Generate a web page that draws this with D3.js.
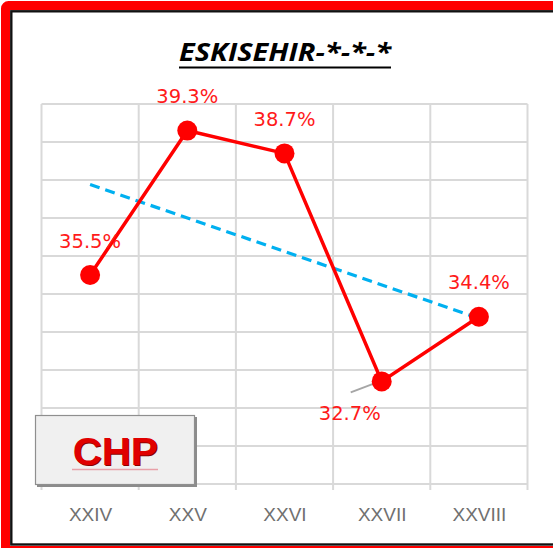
<!DOCTYPE html>
<html>
<head>
<meta charset="utf-8">
<script src="https://cdn.jsdelivr.net/npm/d3@7"></script>
<style>
  html, body { margin: 0; padding: 0; background: #fff; }
  svg { display: block; }
</style>
</head>
<body>
<svg></svg>
<script>
// chart data
const categories = ["XXIV", "XXV", "XXVI", "XXVII", "XXVIII"];
const values = [35.5, 39.3, 38.7, 32.7, 34.4];
const yDomain = [30, 40];
const title = "ESKISEHIR-*-*-*";
const partyName = "CHP";

// canvas
const w = 553;
const h = 548;

const svg = d3.select("svg")
              .attr("width", w)
              .attr("height", h);

// frame: red outer band, thin black inner line
svg.append("rect")
   .attr("x", 5.5).attr("y", 5.5)
   .attr("width", 560).attr("height", 545)
   .attr("rx", 3)
   .attr("fill", "none")
   .attr("stroke", "#ff0000")
   .attr("stroke-width", 9);
svg.append("rect")
   .attr("x", 11.3).attr("y", 11.3)
   .attr("width", 560).attr("height", 533.2)
   .attr("fill", "none")
   .attr("stroke", "#111")
   .attr("stroke-width", 2.4);

// scales
const xBand = d3.scaleBand()
                .domain(categories)
                .range([41.5, 527.5])
                .paddingInner(0)
                .paddingOuter(0);
const xPos = d => xBand(d) + xBand.bandwidth() / 2;

const yScale = d3.scaleLinear()
                 .domain(yDomain)
                 .range([484, 104]);

// gridlines
const grid = svg.append("g").attr("stroke", "#d9d9d9").attr("stroke-width", 2);
grid.selectAll("line.h")
    .data(yScale.ticks(10))
    .enter()
    .append("line")
    .attr("class", "h")
    .attr("x1", 41.5).attr("x2", 527.5)
    .attr("y1", d => yScale(d)).attr("y2", d => yScale(d));
const edges = categories.map(c => xBand(c)).concat([xBand.range()[1]]);
grid.selectAll("line.v")
    .data(edges)
    .enter()
    .append("line")
    .attr("class", "v")
    .attr("x1", d => d).attr("x2", d => d)
    .attr("y1", yScale(yDomain[1])).attr("y2", yScale(yDomain[0]) + 6);

// x axis labels
const xAxis = d3.axisBottom(d3.scalePoint().domain(categories).range([xPos(categories[0]), xPos(categories[4])]))
                .tickSize(0)
                .tickPadding(0);
const xg = svg.append("g")
              .attr("transform", "translate(0, 507.5)")
              .call(xAxis);
xg.select(".domain").remove();
xg.selectAll("text")
  .attr("dy", "0.71em")
  .attr("font-family", "'Liberation Sans', Arial, sans-serif")
  .attr("font-size", 19)
  .attr("fill", "#707070");

// linear trendline (least squares over category index)
const n = values.length;
const xs = values.map((v, i) => i + 1);
const mx = d3.mean(xs);
const my = d3.mean(values);
const slope = d3.sum(xs, (x, i) => (x - mx) * (values[i] - my)) / d3.sum(xs, x => (x - mx) * (x - mx));
const trendAt = x => my + slope * (x - mx);

svg.append("line")
   .attr("x1", xPos(categories[0]))
   .attr("y1", yScale(trendAt(1)))
   .attr("x2", xPos(categories[n - 1]))
   .attr("y2", yScale(trendAt(n)))
   .attr("stroke", "#00b0f0")
   .attr("stroke-width", 3.2)
   .attr("stroke-dasharray", "10,6");

// series line
const line = d3.line()
               .x((d, i) => xPos(categories[i]))
               .y(d => yScale(d));
svg.append("path")
   .datum(values)
   .attr("d", line)
   .attr("fill", "none")
   .attr("stroke", "#ff0000")
   .attr("stroke-width", 3.5);

// leader line for the moved label
svg.append("line")
   .attr("x1", xPos(categories[3]) - 2)
   .attr("y1", yScale(values[3]))
   .attr("x2", xPos(categories[3]) - 31)
   .attr("y2", yScale(values[3]) + 11)
   .attr("stroke", "#a6a6a6")
   .attr("stroke-width", 2);

// markers
svg.selectAll("circle.pt")
   .data(values)
   .enter()
   .append("circle")
   .attr("class", "pt")
   .attr("cx", (d, i) => xPos(categories[i]))
   .attr("cy", d => yScale(d))
   .attr("r", 10)
   .attr("fill", "#ff0000");

// data labels
svg.selectAll("text.lbl")
   .data(values)
   .enter()
   .append("text")
   .attr("class", "lbl")
   .attr("x", (d, i) => xPos(categories[i]) + (i === 3 ? -32 : 0))
   .attr("y", (d, i) => yScale(d) + (i === 3 ? 39 : -27.5))
   .attr("text-anchor", "middle")
   .attr("font-family", "'DejaVu Sans', sans-serif")
   .attr("font-size", 19.5)
   .attr("fill", "#ff1a1a")
   .text(d => d.toFixed(1) + "%");

// title
svg.append("text")
   .attr("x", 285)
   .attr("y", 60.7)
   .attr("text-anchor", "middle")
   .attr("font-family", "'Open Sans', sans-serif")
   .attr("font-weight", "bold")
   .attr("font-style", "italic")
   .attr("font-size", 25.5)
   .attr("textLength", 212)
   .attr("lengthAdjust", "spacingAndGlyphs")
   .attr("fill", "#000")
   .text(title);
svg.append("line")
   .attr("x1", 179).attr("x2", 391)
   .attr("y1", 67.5).attr("y2", 67.5)
   .attr("stroke", "#000")
   .attr("stroke-width", 2.2);

// party box
const box = svg.append("g");
box.append("rect")
   .attr("x", 37).attr("y", 417)
   .attr("width", 160).attr("height", 70)
   .attr("fill", "#8c8c8c");
box.append("rect")
   .attr("x", 35.5).attr("y", 415.5)
   .attr("width", 159).attr("height", 69)
   .attr("fill", "#f0f0f0")
   .attr("stroke", "#8f8f8f")
   .attr("stroke-width", 1.2);
box.append("line")
   .attr("x1", 72).attr("x2", 158)
   .attr("y1", 469.5).attr("y2", 469.5)
   .attr("stroke", "#e8a0a8")
   .attr("stroke-width", 1.5);
box.append("text")
   .attr("x", 116.3)
   .attr("y", 466)
   .attr("text-anchor", "middle")
   .attr("font-family", "'Liberation Sans', Arial, sans-serif")
   .attr("font-weight", "bold")
   .attr("font-size", 39)
   .attr("textLength", 85)
   .attr("lengthAdjust", "spacingAndGlyphs")
   .attr("fill", "#8a0000")
   .text(partyName);
box.append("text")
   .attr("x", 115.2)
   .attr("y", 465)
   .attr("text-anchor", "middle")
   .attr("font-family", "'Liberation Sans', Arial, sans-serif")
   .attr("font-weight", "bold")
   .attr("font-size", 39)
   .attr("textLength", 85)
   .attr("lengthAdjust", "spacingAndGlyphs")
   .attr("fill", "#e00000")
   .text(partyName);
</script>
</body>
</html>
